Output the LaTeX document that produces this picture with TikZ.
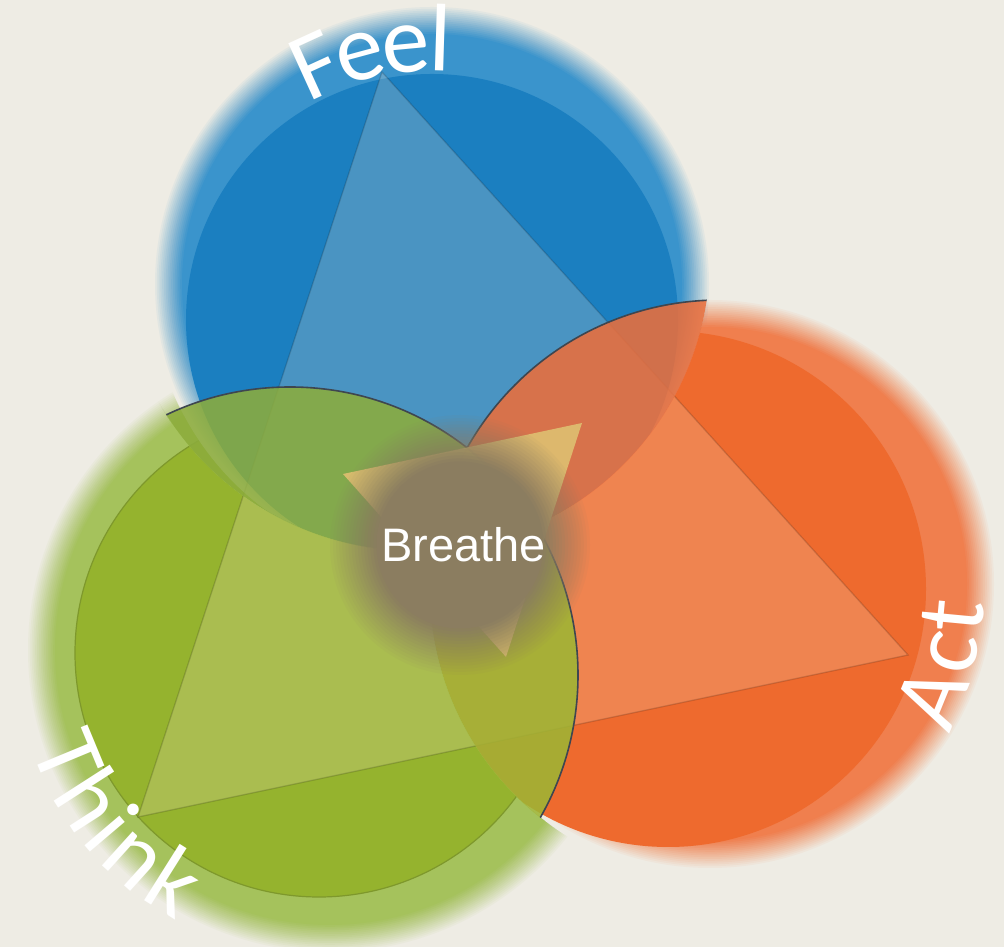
\documentclass[tikz,border=0pt]{standalone}
\usepackage{fontspec}
\setmainfont{Liberation Sans}
\newfontfamily\petalfont{Carlito}
\usetikzlibrary{decorations.text}
\definecolor{bgc}{RGB}{238,236,228}
\definecolor{bluehalo}{RGB}{58,148,204}
\definecolor{bluecore}{RGB}{27,127,192}
\definecolor{orangehalo}{RGB}{240,127,78}
\definecolor{orangecore}{RGB}{238,106,46}
\definecolor{greenhalo}{RGB}{165,194,92}
\definecolor{greencore}{RGB}{149,179,46}
\definecolor{greenline}{RGB}{126,152,44}
\definecolor{trifill}{RGB}{245,225,205}
\definecolor{bozone}{RGB}{235,110,59}
\definecolor{gbzone}{RGB}{140,172,60}
\definecolor{gozone}{RGB}{158,181,52}
\definecolor{rimline}{RGB}{62,70,80}
\definecolor{goldc}{RGB}{222,190,112}
\definecolor{blobc}{RGB}{139,125,96}
% soft-edged disc: x, y, radius, colour
\newcommand{\softdisc}[4]{%
  \foreach \j in {1,...,16}{%
    \pgfmathsetmacro{\softop}{1/(17-\j)}%
    \pgfmathsetmacro{\softr}{#3+10-(\j-1)*1.8}%
    \fill[#4, fill opacity=\softop] (#1,#2) circle[radius=\softr pt];
  }}
% clip to the outside of a circle: x, y, radius
\newcommand{\clipoutside}[3]{%
  \clip (-100,-100) -- (-100,1100) -- (1100,1100) -- (1100,-100) -- cycle
        ({#1+#3},#2) arc[start angle=0,end angle=360,radius=#3pt];}
\newcommand{\greenpetal}{%
  \softdisc{330}{297}{292}{greenhalo}
  \fill[greencore, draw=greenline, line width=1.2pt] (319,294) circle[radius=244pt];}
\tikzset{
  rim/.style={draw=rimline, line width=1.6pt},
  petaltext/.style n args={3}{decorate, decoration={text along path, text align=center, text color=white,
     raise=#3, text={|\petalfont\fontsize{#2}{#2}\selectfont|#1}}}
}
\begin{document}
\begin{tikzpicture}[x=1pt,y=1pt]
\useasboundingbox (0,0) rectangle (1004,947);
\fill[bgc] (0,0) rectangle (1004,947);

\coordinate (feelv) at (382,875);
\coordinate (actv) at (908,292);
\coordinate (thinkv) at (138,130);
\coordinate (ga) at (343,473);
\coordinate (gb) at (582,524);
\coordinate (gc) at (506,290);

% blue petal
\softdisc{432}{663}{267}{bluehalo}
\fill[bluecore] (432,627) circle[radius=246pt];

% orange petal
\begin{scope}
  \clipoutside{415}{691}{295}
  \softdisc{710}{363}{274}{orangehalo}
  \fill[orangecore] (668,358) circle[radius=258pt];
\end{scope}

% green petal
\begin{scope}
  \clipoutside{415}{691}{295}
  \clipoutside{720}{357}{290}
  \greenpetal
\end{scope}
\begin{scope}
  \clip (415,691) circle[radius=295pt];
  \clipoutside{432}{663}{281}
  \clipoutside{720}{357}{290}
  \greenpetal
\end{scope}

% big triangle
\fill[trifill, fill opacity=0.22, draw=black, draw opacity=0.16, line width=1.3pt]
  (feelv) -- (actv) -- (thinkv) -- cycle;

% orange over blue
\begin{scope}
  \clip (415,691) circle[radius=295pt];
  \clip (432,663) circle[radius=278pt];
  \fill[bozone, fill opacity=0.88] (720,357) circle[radius=290pt];
  \draw[rim] (720,357) circle[radius=290pt];
\end{scope}

% green over blue
\begin{scope}
  \clip (415,691) circle[radius=295pt];
  \clip (330,297) circle[radius=292pt];
  \fill[gbzone, fill opacity=0.88] (290,272) circle[radius=288pt];
\end{scope}

% green over orange
\begin{scope}
  \clipoutside{415}{691}{295}
  \clip (720,357) circle[radius=290pt];
  \fill[gozone, fill opacity=0.88] (290,272) circle[radius=288pt];
\end{scope}

% green rim
\begin{scope}
  \clip (330,297) circle[radius=294pt];
  \begin{scope}
    \clip (415,691) circle[radius=295pt];
    \draw[rim] (290,272) circle[radius=288pt];
  \end{scope}
  \begin{scope}
    \clip (720,357) circle[radius=290pt];
    \draw[rim] (290,272) circle[radius=288pt];
  \end{scope}
\end{scope}

% centre
\fill[goldc, fill opacity=0.93] (ga) -- (gb) -- (gc) -- cycle;
\foreach \j in {1,...,16}{%
  \pgfmathsetmacro{\blobop}{1/(17-\j)}%
  \pgfmathsetmacro{\blobr}{130-(\j-1)*3.1}%
  \fill[blobc, fill opacity=\blobop] (460,402) circle[radius=\blobr pt];
}
\node[text=white, font=\fontsize{47}{50}\selectfont, anchor=base, inner sep=0pt] (breathe) at (463.5,385) {Breathe};

% petal labels (path at mid-letter height, baseline lowered by raise)
\path[petaltext={Feel}{96}{-31pt}] ([shift={(160:280pt)}]432,627) arc[start angle=160, end angle=45, radius=280pt];
\path[petaltext={Act}{96}{-31pt}] ([shift={(-60:285pt)}]668,358) arc[start angle=-60, end angle=30, radius=285pt];
\path[petaltext={Think}{96}{-30pt}] ([shift={(166:273pt)}]319,294) arc[start angle=166, end angle=274, radius=273pt];
\end{tikzpicture}
\end{document}
